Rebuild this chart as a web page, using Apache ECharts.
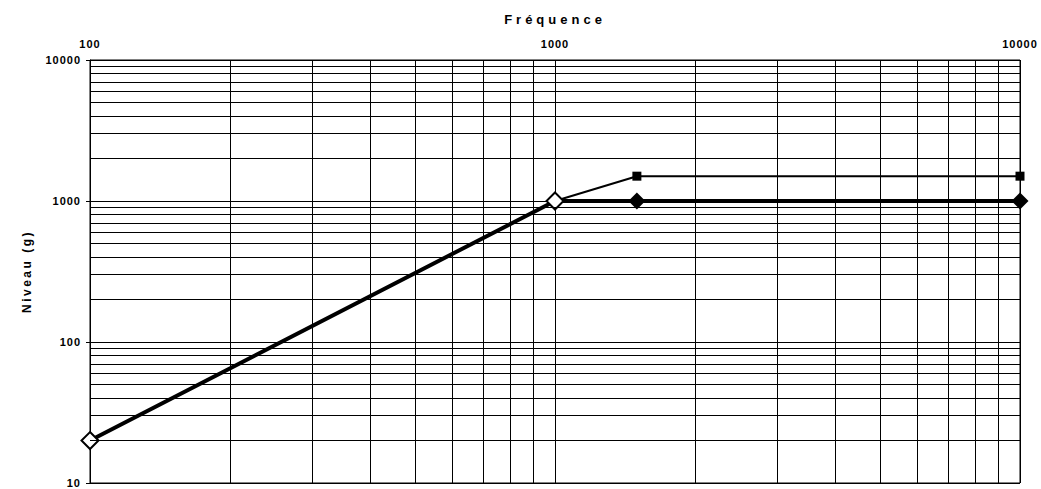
<!DOCTYPE html>
<html><head><meta charset="utf-8">
<script src="https://cdn.jsdelivr.net/npm/echarts@6/dist/echarts.min.js"></script>
<style>
html,body{margin:0;padding:0;background:#fff}#c{width:1041px;height:489px}
#c text[style*="13px"], #c text[font-size="13"], #c text[style*="font-size:13"]{letter-spacing:4px}
#c text[style*="12px"], #c text[font-size="12"], #c text[style*="font-size:12"]{letter-spacing:2.5px}
#c text[style*="11px"], #c text[font-size="11"], #c text[style*="font-size:11"]{letter-spacing:1px}
</style>
</head><body><div id="c"></div>
<script>
const freq = [100, 1000, 1500, 10000];
const niveauA = [20, 1000, 1000, 1000];   // diamonds
const niveauB = [20, 1000, 1500, 1500];   // squares
const xTicks = [100, 1000, 10000];
const yTicks = [10, 100, 1000, 10000];
const xMinor = [200,300,400,500,600,700,800,900,2000,3000,4000,5000,6000,7000,8000,9000];
const yMinor = [20,30,40,50,60,70,80,90,200,300,400,500,600,700,800,900,2000,3000,4000,5000,6000,7000,8000,9000];

const chart = echarts.init(document.getElementById('c'), null, {renderer: 'svg'});
const font = 'Liberation Sans, Arial, sans-serif';
const gridLines = [];
xMinor.forEach(v => gridLines.push({xAxis: v}));
yMinor.forEach(v => gridLines.push({yAxis: v}));

chart.setOption({
  animation: false,
  backgroundColor: '#fff',
  grid: {left: 90, right: 21, top: 60, bottom: 6, show: true, borderColor: '#000', borderWidth: 1},
  xAxis: {
    type: 'log', logBase: 10, min: 100, max: 10000, position: 'top',
    name: 'Fréquence', nameLocation: 'middle', nameGap: 34,
    nameTextStyle: {fontFamily: font, fontWeight: 'bold', fontSize: 13, color: '#000'},
    axisLine: {show: true, lineStyle: {color: '#000', width: 1}},
    axisTick: {show: false},
    axisLabel: {fontFamily: font, fontWeight: 'bold', fontSize: 11, color: '#000', margin: 11,
      formatter: v => String(Math.round(v))},
    splitLine: {show: true, lineStyle: {color: '#000', width: 1}}
  },
  yAxis: {
    type: 'log', logBase: 10, min: 10, max: 10000,
    name: 'Niveau (g)', nameLocation: 'middle', nameGap: 57, nameRotate: 90,
    nameTextStyle: {fontFamily: font, fontWeight: 'bold', fontSize: 12, color: '#000'},
    axisLine: {show: true, lineStyle: {color: '#000', width: 1}},
    axisTick: {show: true, inside: false, length: 4, lineStyle: {color: '#000'}},
    axisLabel: {fontFamily: font, fontWeight: 'bold', fontSize: 11, color: '#000', margin: 9,
      formatter: v => String(Math.round(v))},
    splitLine: {show: true, lineStyle: {color: '#000', width: 1}}
  },
  series: [
    {
      type: 'line', data: [], silent: true,
      markLine: {silent: true, symbol: 'none', label: {show: false},
        lineStyle: {color: '#000', width: 1, type: 'solid'}, emphasis: {disabled: true},
        data: gridLines}
    },
    {
      type: 'line', name: 'B', z: 3,
      data: freq.map((f, i) => [f, niveauB[i]]),
      symbol: 'rect', symbolSize: 9, showAllSymbol: true,
      lineStyle: {color: '#000', width: 2},
      itemStyle: {color: '#000'}
    },
    {
      type: 'line', name: 'A', z: 4,
      data: freq.map((f, i) => {
        const d = {value: [f, niveauA[i]]};
        if (i < 2) d.itemStyle = {color: '#fff', borderColor: '#000', borderWidth: 2};
        return d;
      }),
      symbol: 'diamond', symbolSize: 17, showAllSymbol: true,
      lineStyle: {color: '#000', width: 4},
      itemStyle: {color: '#000'}
    }
  ]
});
</script></body></html>
